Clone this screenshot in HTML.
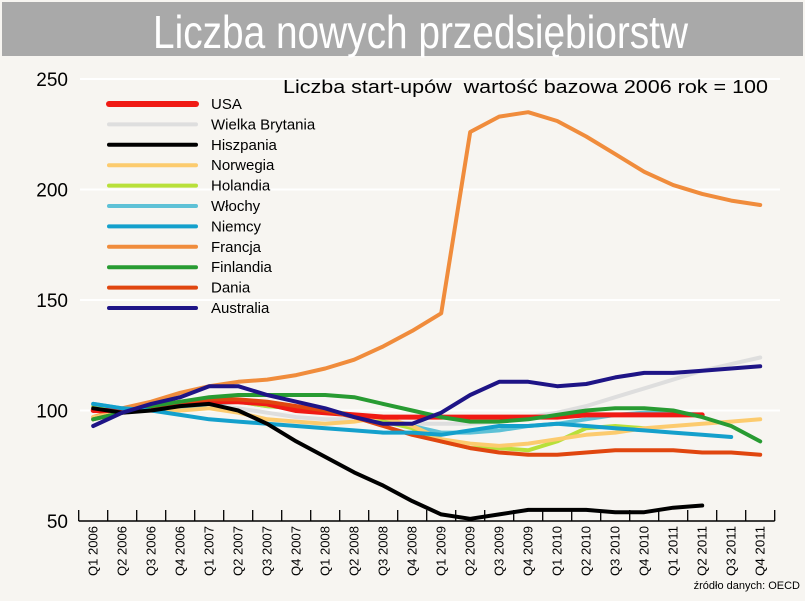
<!DOCTYPE html>
<html><head><meta charset="utf-8"><style>
body{margin:0;background:#fff;}
#wrap{position:relative;width:805px;height:601px;background:#f7f5f1;overflow:hidden;font-family:"Liberation Sans",sans-serif;}
</style></head><body>
<div id="wrap">
<svg id="svg" width="805" height="601" xmlns="http://www.w3.org/2000/svg">
<rect x="0" y="0" width="805" height="601" fill="#f7f5f1"/>
<rect x="2" y="2" width="801" height="54" fill="#a9a9a9"/>
<text x="153" y="48" fill="#fff" font-size="46" textLength="535" lengthAdjust="spacingAndGlyphs" font-family="Liberation Sans, sans-serif">Liczba nowych przedsiębiorstw</text>
<g id="grid"></g>
<g id="yaxis"></g>
<g id="xaxis"></g>
<g id="series"></g>
<text x="283" y="93" font-size="18" textLength="485" lengthAdjust="spacingAndGlyphs" fill="#000">Liczba start-upów&#160; wartość bazowa 2006 rok = 100</text>
<g id="legend"></g>
<text x="800" y="589" font-size="11" text-anchor="end" fill="#000">źródło danych: OECD</text>
</svg>
</div>
<script>
const categories=["Q1 2006","Q2 2006","Q3 2006","Q4 2006","Q1 2007","Q2 2007","Q3 2007","Q4 2007","Q1 2008","Q2 2008","Q3 2008","Q4 2008","Q1 2009","Q2 2009","Q3 2009","Q4 2009","Q1 2010","Q2 2010","Q3 2010","Q4 2010","Q1 2011","Q2 2011","Q3 2011","Q4 2011"];
const yTicks=[50,100,150,200,250];
const seriesNames=["USA","Wielka Brytania","Hiszpania","Norwegia","Holandia","Włochy","Niemcy","Francja","Finlandia","Dania","Australia"];
const seriesColors=["#f01a14","#dedede","#000000","#fccb6e","#b8e03a","#5ec1d6","#14a0cc","#f08c3c","#289b32","#e0460f","#1e1486"];
const usa=[100,100,101,103,104,104,103,100,99,98,97,97,97,97,97,97,97,98,98,98,98,98];
const uk=[101,100,100,101,102,101,99,97,96,96,95,94,94,94,95,97,99,102,106,110,114,118,121,124];
const spain=[101,99,100,102,103,100,94,86,79,72,66,59,53,51,53,55,55,55,54,54,56,57];
const norway=[97,99,101,100,101,99,96,95,94,95,97,93,87,85,84,85,87,89,90,92,93,94,95,96];
const netherlands=[102,100,101,103,105,104,102,101,100,98,95,92,86,83,83,82,86,92,93,92];
const italy=[103,101,100,101,103,104,102,101,99,98,96,93,90,90,91,93,94,96,98,99,99,98];
const germany=[103,101,100,98,96,95,94,93,92,91,90,90,89,91,93,93,94,93,92,91,90,89,88];
const france=[97,101,104,108,111,113,114,116,119,123,129,136,144,226,233,235,231,224,216,208,202,198,195,193];
const finland=[96,99,102,104,106,107,107,107,107,106,103,100,97,95,95,96,98,100,101,101,100,97,93,86];
const denmark=[96,99,102,104,105,105,104,102,100,97,93,89,86,83,81,80,80,81,82,82,82,81,81,80];
const australia=[93,99,103,106,111,111,107,104,101,97,94,94,99,107,113,113,111,112,115,117,117,118,119,120];
const allSeries=[usa,uk,spain,norway,netherlands,italy,germany,france,finland,denmark,australia];
const drawOrder=[1,7,5,4,3,0,9,8,6,2,10];

const NS="http://www.w3.org/2000/svg";
const x=i=>93.2+29*i;
const y=v=>521-(v-50)*2.21;
function mk(tag,attrs,parent){const e=document.createElementNS(NS,tag);for(const k in attrs)e.setAttribute(k,attrs[k]);document.getElementById(parent).appendChild(e);return e;}

yTicks.forEach(t=>{
  if(t>50){const g=mk('line',{x1:80,x2:780,y1:y(t),y2:y(t),stroke:'#ffffff','stroke-width':2},'grid');
  
  }
  const l=mk('text',{x:68,y:y(t)+7,'font-size':19,'text-anchor':'end',fill:'#000'},'yaxis');
  l.textContent=t;
  
  
});
const ax=mk('line',{x1:78.7,x2:x(categories.length-1)+14.5,y1:521,y2:521,stroke:'#000','stroke-width':1.5},'xaxis');


for(let i=0;i<=categories.length;i++){
  const tk=mk('line',{x1:x(i)-14.5,x2:x(i)-14.5,y1:510,y2:521,stroke:'#000','stroke-width':1.3},'xaxis');
  
  
}
categories.forEach((c,i)=>{
  const t=mk('text',{x:0,y:0,'font-size':12.5,'text-anchor':'end',fill:'#000',textLength:50,lengthAdjust:'spacingAndGlyphs',transform:`translate(${x(i)+4.5},526) rotate(-90)`},'xaxis');
  t.textContent=c;
  
  
});
drawOrder.forEach(s=>{
  const d=allSeries[s].map((v,i)=>(i?'L':'M')+x(i).toFixed(1)+','+y(v).toFixed(1)).join(' ');
  const p=mk('path',{d:d,fill:'none',stroke:seriesColors[s],'stroke-width':s===0?5:4,'stroke-linejoin':'round','stroke-linecap':'round'},'series');
  
  
});
seriesNames.forEach((n,i)=>{
  const ly=104+20.4*i;
  const l=mk('line',{x1:109,x2:196,y1:ly,y2:ly,stroke:seriesColors[i],'stroke-width':i===0?6:4,'stroke-linecap':'round'},'legend');
  
  
  const t=mk('text',{x:211,y:ly+5,'font-size':15,fill:'#000'},'legend');
  t.textContent=n;
  
  
});
</script>
</body></html>
